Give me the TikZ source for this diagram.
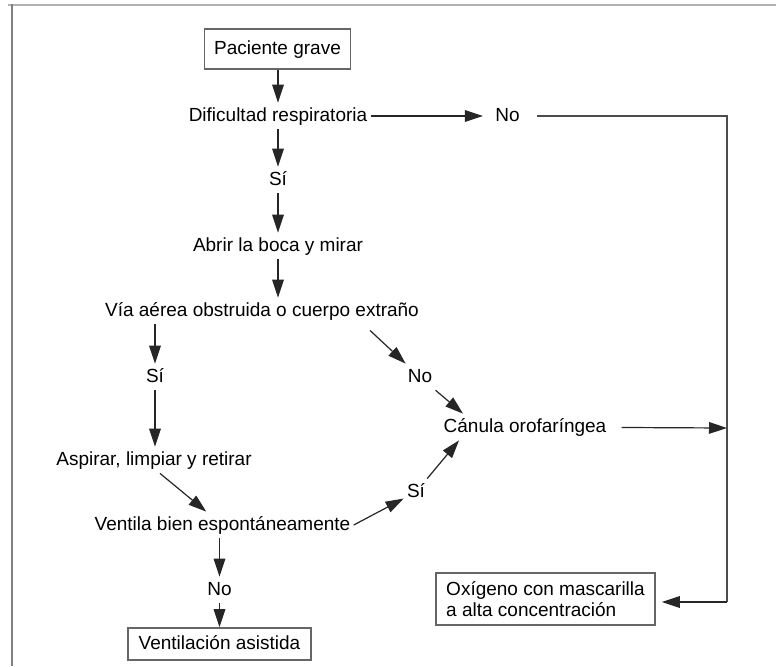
\documentclass[tikz,border=0pt]{standalone}
\usepackage{fontspec}
\setmainfont{Liberation Sans}
\usetikzlibrary{arrows.meta,calc}
\begin{document}
\begin{tikzpicture}[x=0.5pt,y=-0.5pt,
  every node/.style={font=\fontsize{9.5}{10.5}\selectfont, text=black},
  lbl/.style={inner xsep=1.5pt, inner ysep=2pt, text height=7pt, text depth=2pt},
  boxn/.style={draw=black!60, line width=0.8pt, fill=white, inner sep=0pt, text height=7pt, text depth=2pt},
  arr/.style={draw=black!85, line width=0.6pt, -{Triangle[length=9pt,width=5.8pt]}},
  ln/.style={draw=black!70, line width=0.65pt},
  frameline/.style={line width=1pt},
]
\useasboundingbox (0,0) rectangle (776,666);
\fill[white] (0,0) rectangle (776,666);
\draw[frameline, draw=black!30] (8,4.5) -- (776,4.5);
\draw[frameline, draw=black!50] (11.5,4) -- (11.5,666);

% nodes
\node[boxn, minimum width=73pt, minimum height=20pt] (pg) at (277.5,49) {Paciente grave};
\node[lbl] (dr)  at (278,116) {Dificultad respiratoria};
\node[lbl] (no1) at (507.5,116) {No};
\node[lbl] (si1) at (278,180) {Sí};
\node[lbl] (abr) at (278,246) {Abrir la boca y mirar};
\node[lbl] (via) at (262,311) {Vía aérea obstruida o cuerpo extraño};
\node[lbl] (si2) at (155,377) {Sí};
\node[lbl] (no2) at (420,377) {No};
\node[lbl] (asp) at (154,460) {Aspirar, limpiar y retirar};
\node[lbl] (can) at (525,427) {Cánula orofaríngea};
\node[lbl] (si3) at (416,492) {Sí};
\node[lbl] (ven) at (222.5,525) {Ventila bien espontáneamente};
\node[lbl] (no3) at (219.5,590) {No};
\node[boxn, minimum width=91.5pt, minimum height=16pt] (va) at (219.5,644) {Ventilación asistida};
\node[draw=black!60, line width=0.8pt, fill=white, align=left, minimum width=109.5pt, minimum height=26pt, inner sep=0pt] (ox) at (545.5,599) {Oxígeno con mascarilla\\a alta concentración};

\coordinate (c1) at (727,116);
\coordinate (c2) at (727,602);
\coordinate (c3) at (727,428);

% connectors
\draw[arr] (pg.south -| dr) -- (dr);
\draw[arr, shorten >=4.5pt] (dr) -- (no1);
\draw[ln, shorten <=7pt] (no1) -- (c1) -- (c2);
\draw[arr, shorten >=3pt] (c2) -- (ox.east |- c2);
\draw[arr] (dr) -- (si1);
\draw[arr] (si1) -- (abr);
\draw[arr] (abr) -- (abr |- via.north);
\draw[arr] (via.south -| si2) -- (si2);
\draw[arr] (si2) -- (si2 |- asp.north);
\draw[arr] ([xshift=54pt,yshift=-3pt]via.south) -- (no2);
\draw[arr] (no2) -- ([xshift=-31pt]can.north);
\draw[arr] ([xshift=3pt]asp.south) -- (ven);
\draw[arr] (ven.east) -- (si3);
\draw[arr] (si3) -- ([xshift=-33pt]can.south);
\draw[arr, shorten <=6pt] (can) -- (c3);
\draw[arr] (ven.south -| no3) -- (no3);
\draw[arr] (no3) -- (va);
\end{tikzpicture}
\end{document}
